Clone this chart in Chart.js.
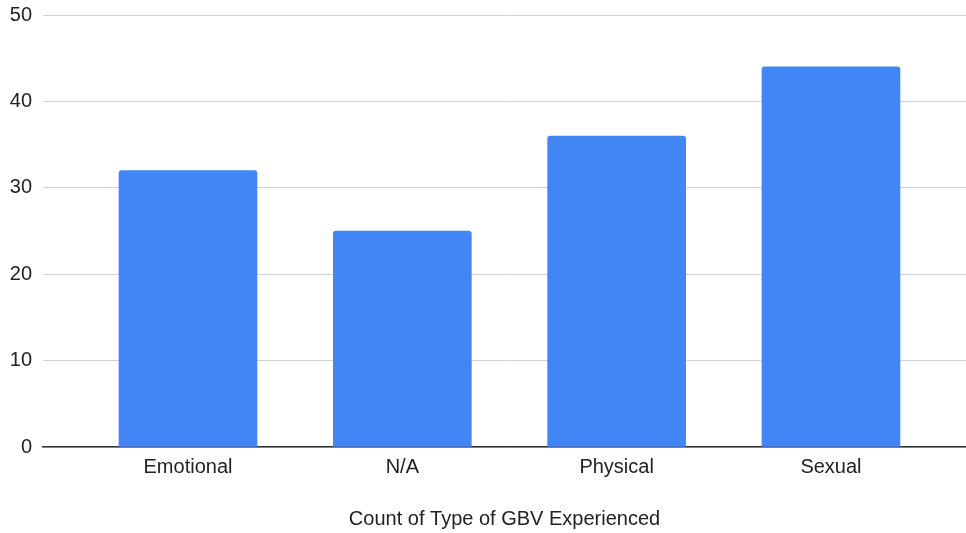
<!DOCTYPE html>
<html>
<head>
<meta charset="utf-8">
<script src="https://cdn.jsdelivr.net/npm/chart.js@4/dist/chart.umd.min.js"></script>
<style>
  html, body { margin: 0; padding: 0; background: #ffffff; }
  #wrap { width: 966px; height: 533px; position: relative; }
</style>
</head>
<body>
<div id="wrap"><canvas id="chart"></canvas></div>
<script>
// Counts per type of gender-based violence experienced
const categories = ['Emotional', 'N/A', 'Physical', 'Sexual'];
const counts = [32, 25, 36, 44];
const yTicks = [0, 10, 20, 30, 40, 50];

const TEXT = '#222222';
const FONT = { family: "'Liberation Sans', Arial, sans-serif", size: 20 };

new Chart(document.getElementById('chart'), {
  type: 'bar',
  data: {
    datasets: [{
      label: 'Count of Type of GBV Experienced',
      data: counts.map((v, i) => ({ x: i, y: v })),
      backgroundColor: '#4285F4',
      borderWidth: 0,
      borderRadius: 3,
      borderSkipped: 'start',
      barThickness: 138
    }]
  },
  options: {
    responsive: true,
    maintainAspectRatio: false,
    animation: false,
    layout: { padding: { top: 15, right: 0, bottom: 0, left: 0 } },
    plugins: {
      legend: { display: false },
      tooltip: { enabled: false }
    },
    scales: {
      x: {
        type: 'linear',
        offset: false,
        min: -0.6765,
        max: 3.63,
        z: 1,
        grid: { display: false, drawTicks: false },
        border: { display: true, color: '#333333', width: 1.5 },
        ticks: {
          stepSize: 1,
          includeBounds: false,
          autoSkip: false,
          maxRotation: 0,
          padding: 8,
          color: TEXT,
          font: FONT,
          callback: (v) => Number.isInteger(v) && categories[v] !== undefined ? categories[v] : ''
        },
        title: {
          display: true,
          text: 'Count of Type of GBV Experienced',
          color: TEXT,
          font: FONT,
          padding: { top: 20, bottom: 2 }
        }
      },
      y: {
        min: yTicks[0],
        max: yTicks[yTicks.length - 1],
        afterFit: (scale) => {
          scale.width = 43;
          scale.paddingTop = 0;
          scale.paddingBottom = 0;
        },
        afterBuildTicks: (scale) => { scale.ticks = yTicks.map(v => ({ value: v })); },
        grid: { color: '#d0d0d0', lineWidth: 1, drawTicks: false },
        border: { display: false },
        ticks: {
          padding: 11,
          color: TEXT,
          font: FONT
        }
      }
    }
  }
});
</script>
</body>
</html>
